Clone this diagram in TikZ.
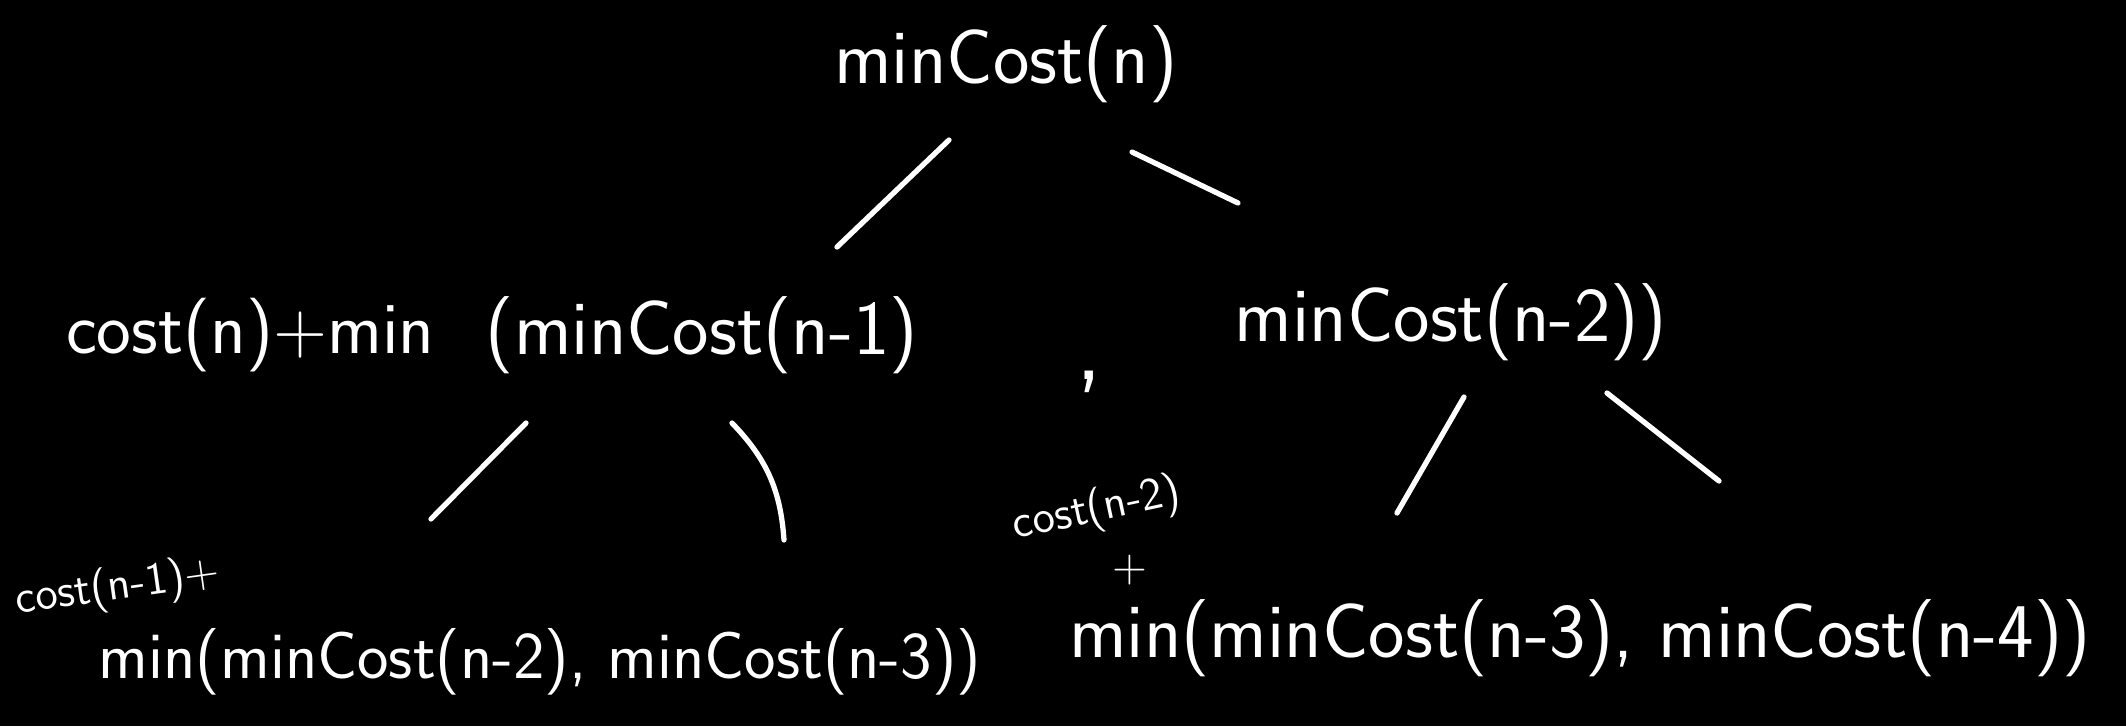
\documentclass[tikz,border=0pt]{standalone}
\usepackage{tikz}
\usetikzlibrary{positioning}

\begin{document}
\begin{tikzpicture}[
    x=0.01cm, y=-0.01cm,
    term/.style={text=white, inner sep=0pt, font=\sffamily\fontsize{22}{26}\selectfont},
    mid term/.style={term, font=\sffamily\fontsize{19}{22}\selectfont},
    small term/.style={term, font=\sffamily\fontsize{13}{15}\selectfont},
    edge/.style={draw=white, line width=1.5pt, line cap=round}
]
    % Background
    \fill[black] (0,0) rectangle (2126,726);

    % Root call
    \node (root) [term] at (1006,64) {minCost(n)};

    % First expansion
    \node (min1) [term] at (702,335) {(minCost(n-1)};
    \node (head) [term, font=\sffamily\fontsize{21}{24}\selectfont, left=0.5cm of min1] {cost(n)+min};
    \node (comma) [term, font=\sffamily\fontsize{30}{34}\selectfont] at (1089,382) {,};
    \node (min2) [term] at (1451,322) {minCost(n-2))};

    % Expansion of minCost(n-1)
    \node (costA) [small term, rotate=8] at (118,588) {cost(n-1)+};
    \node (subA) [mid term] at (540,662) {min(minCost(n-2), minCost(n-3))};

    % Expansion of minCost(n-2)
    \node (costB) [small term, rotate=12] at (1097,510) {cost(n-2)};
    \node (plusB) [small term] at (1130,570) {+};
    \node (subB) [term] at (1580,638) {min(minCost(n-3), minCost(n-4))};

    % Branches
    \draw[edge] ([shift={(-57,76)}]root.center) -- ([shift={(135,-88)}]min1.center);
    \draw[edge] ([shift={(126,88)}]root.center) -- ([shift={(-213,-119)}]min2.center);
    \draw[edge] ([shift={(-176,88)}]min1.center) -- ([shift={(-109,-143)}]subA.center);
    \draw[edge] ([shift={(30,88)}]min1.center) to[bend left=20] ([shift={(244,-122)}]subA.center);
    \draw[edge] ([shift={(13,75)}]min2.center) -- ([shift={(-183,-125)}]subB.center);
    \draw[edge] ([shift={(156,71)}]min2.center) -- ([shift={(139,-157)}]subB.center);
\end{tikzpicture}
\end{document}
